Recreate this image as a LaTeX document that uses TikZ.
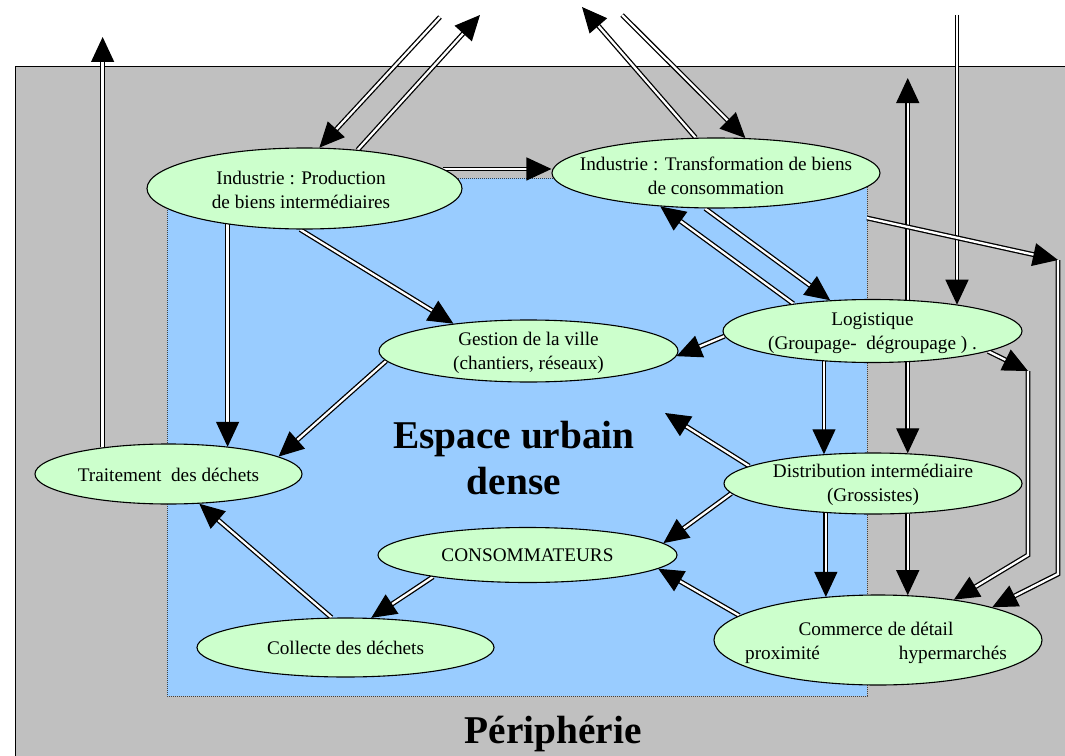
\documentclass[tikz,border=0pt]{standalone}
\usepackage{fontspec}
\setmainfont{Liberation Serif}
\usetikzlibrary{shapes.geometric,arrows.meta}
\definecolor{peri}{HTML}{C0C0C0}
\definecolor{urbain}{HTML}{99CCFF}
\definecolor{acteurfill}{HTML}{CCFFCC}
\pgfdeclarelayer{zones}
\pgfdeclarelayer{fluxlayer}
\pgfsetlayers{zones,fluxlayer,main}

\begin{document}
\begin{tikzpicture}[x=1bp,y=-1bp,
  >={Triangle[length=25bp,width=23bp]},
  acteur/.style={ellipse, draw, line width=1.1bp, fill=acteurfill, inner sep=0pt},
  legende/.style={inner sep=0pt, align=center, font=\fontsize{19.3}{24}\selectfont},
  titre/.style={inner sep=0pt, align=center, font=\bfseries\fontsize{39.5}{47}\selectfont},
  flux/.style={double, line width=1.3bp, double distance=2.3bp, ->},
  ]
\useasboundingbox (0,0) rectangle (1065,756);

% actors (ellipses) and their texts
\node[acteur, minimum width=315bp, minimum height=81bp] (prod) at (304.5,188.5) {};
\node[legende] (prod-t) at (301,190) {Industrie : Production\\de biens intermédiaires};
\node[acteur, minimum width=328bp, minimum height=70bp] (trans) at (716,173) {};
\node[legende] (trans-t) at (716,176) {Industrie : Transformation de biens\\de consommation};
\node[acteur, minimum width=299bp, minimum height=62bp] (gest) at (528.5,351) {};
\node[legende] (gest-t) at (528.5,353) {Gestion de la ville\\(chantiers, réseaux)};
\node[acteur, minimum width=299bp, minimum height=63bp] (logi) at (872.5,331) {};
\node[legende] (logi-t) at (872.5,333) {Logistique\\(Groupage-\ \ dégroupage ) .};
\node[acteur, minimum width=267bp, minimum height=60bp] (trait) at (168.5,474) {};
\node[legende] (trait-t) at (168.5,475) {Traitement\ \ des déchets};
\node[acteur, minimum width=298bp, minimum height=61bp] (dist) at (873,483.5) {};
\node[legende] (dist-t) at (873,485) {Distribution intermédiaire\\(Grossistes)};
\node[acteur, minimum width=299bp, minimum height=55bp] (cons) at (527.5,555) {};
\node[legende] (cons-t) at (527.5,555) {CONSOMMATEURS};
\node[acteur, minimum width=297bp, minimum height=59bp] (coll) at (345.5,647.5) {};
\node[legende] (coll-t) at (345.5,648) {Collecte des déchets};
\node[acteur, minimum width=328bp, minimum height=90bp] (comm) at (878,640) {};
\node[legende] (comm-t) at (876,643) {Commerce de détail\\proximité\hspace{79bp}hypermarchés};

% zone titles
\node[titre] (espace) at (514,458) {Espace urbain\\dense};
\node[titre, anchor=base] (peri-t) at (553,743) {Périphérie};

% free ends of the flows
\coordinate (t1) at (440,17);
\coordinate (t2) at (480,15);
\coordinate (t3) at (582,7);
\coordinate (t4) at (622,15);
\coordinate (t6) at (104,37);
\coordinate (t16) at (665,413);
\coordinate (t20) at (907,78);
\coordinate (t22) at (957,15);
\coordinate (s23) at (867,218);
\coordinate (c23) at (1058,260);
\coordinate (d23) at (1058,574);
\coordinate (c24) at (1028,371);
\coordinate (d24) at (1028,555);

% zones
\begin{pgfonlayer}{zones}
\fill[peri] (15,67) rectangle (1080,770);
\draw[line width=1bp] (15,770) -- (15,67) -- (1080,67);
\filldraw[fill=urbain, draw=black!75, line width=0.7bp, dash pattern=on 1bp off 1bp]
  (167,178) rectangle (867,696);
\end{pgfonlayer}

% flows
\begin{pgfonlayer}{fluxlayer}
\draw[flux] (t1) -- (prod.70);
\draw[flux] (prod.36) -- (t2);
\draw[flux] (trans.120) -- (t3);
\draw[flux] (t4) -- (trans.50);
\draw[flux] (prod.8) -- (prod.8 -| trans.west);
\draw[flux] (trait.158) -- (trait.158 |- t6);
\draw[flux] (prod.205) -- (prod.205 |- trait.24);
\draw[flux] (gest.184) -- (trait.9);
\draw[flux] (prod.264) -- (gest.160);
\draw[flux] (coll.115) -- (trait.316);
\draw[flux] (cons.193) -- (coll.49);
\draw[flux] (trans.253) -- (logi.144);
\draw[flux] (logi.161) -- (trans.211);
\draw[flux] (logi.182) -- (gest.358);
\draw[flux] (logi.212) -- (logi.212 |- dist.150);
\draw[flux] (dist.172) -- (t16);
\draw[flux] (dist.184) -- (cons.5);
\draw[flux] (comm.170) -- (cons.354);
\draw[flux] (dist.212) -- (dist.212 |- comm.141);
\draw[flux, <->] (dist.41) -- (dist.41 |- t20);
\draw[flux] (dist.319) -- (dist.319 |- comm.57);
\draw[flux] (t22) -- (t22 |- logi.17);
\draw[flux] (s23) -- (c23);
\draw[flux] (c23) -- (d23) -- (comm.16);
\draw[flux] (logi.350) -- (c24);
\draw[flux] (c24) -- (d24) -- (comm.28);
\end{pgfonlayer}
\end{tikzpicture}
\end{document}
